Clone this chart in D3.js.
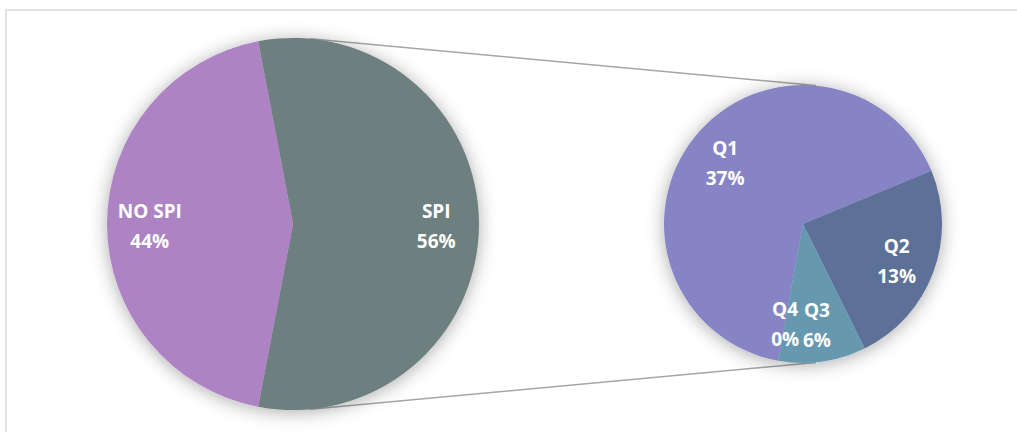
<!DOCTYPE html>
<html>
<head>
<meta charset="utf-8">
<script src="https://cdn.jsdelivr.net/npm/d3@7"></script>
<style>
  body { margin: 0; background: #fff; }
  svg { display: block; }
  .lbl { font-family: "Open Sans", "Noto Sans", sans-serif; font-weight: 700; font-size: 19px; fill: #fff; }
</style>
</head>
<body>
<div id="chart"></div>
<script>
// main pie
var mainCats = ["SPI", "NO SPI"];
var mainVals = [56, 44];
var mainColors = ["#6e7f80", "#ad83c4"];

// second pie (breakdown of SPI)
var subCats = ["Q1", "Q2", "Q3", "Q4"];
var subVals = [36.9, 13.4, 5.7, 0];
var subColors = ["#8784c6", "#5d7198", "#6699b0", "#7c8fb5"];

var width = 1017, height = 432;

var svg = d3.select("#chart").append("svg")
    .attr("width", width)
    .attr("height", height);

// soft shadow like excel
var defs = svg.append("defs");
var f = defs.append("filter").attr("id", "shadow")
    .attr("x", "-25%").attr("y", "-25%").attr("width", "150%").attr("height", "150%");
f.append("feDropShadow")
    .attr("dx", 0).attr("dy", 2)
    .attr("stdDeviation", 9)
    .attr("flood-color", "#000")
    .attr("flood-opacity", 0.33);

// chart frame
svg.append("rect")
    .attr("x", 6).attr("y", 10)
    .attr("width", 1030).attr("height", 440)
    .attr("fill", "none")
    .attr("stroke", "#d9d9d9")
    .attr("stroke-width", 1.5);

var c1 = { x: 293, y: 224, r: 186 };
var c2 = { x: 803, y: 224, r: 139 };

// connector lines = outer tangents of the two circles
var d = c2.x - c1.x;
var a = (c1.r - c2.r) / d;
var b = Math.sqrt(1 - a * a);
[-1, 1].forEach(function (s) {
    svg.append("line")
        .attr("x1", c1.x + c1.r * a).attr("y1", c1.y + s * c1.r * b)
        .attr("x2", c2.x + c2.r * a).attr("y2", c2.y + s * c2.r * b)
        .attr("stroke", "#a6a6a6")
        .attr("stroke-width", 1.5);
});

// main pie: SPI slice centred on the right side
var spiFrac = mainVals[0] / d3.sum(mainVals);
var start1 = Math.PI / 2 - Math.PI * spiFrac;
var pie1 = d3.pie().sort(null).startAngle(start1).endAngle(start1 + 2 * Math.PI);
var arc1 = d3.arc().innerRadius(0).outerRadius(c1.r);
var lab1 = d3.arc().innerRadius(c1.r * 0.77).outerRadius(c1.r * 0.77);

var g1 = svg.append("g").attr("transform", "translate(" + c1.x + "," + c1.y + ")");
g1.append("g").attr("filter", "url(#shadow)")
    .selectAll("path")
    .data(pie1(mainVals))
    .enter()
    .append("path")
    .attr("d", arc1)
    .attr("fill", function (d, i) { return mainColors[i]; });

// second pie
var start2 = 190.3 * Math.PI / 180;
var pie2 = d3.pie().sort(null).startAngle(start2).endAngle(start2 + 2 * Math.PI);
var arc2 = d3.arc().innerRadius(0).outerRadius(c2.r);
var lab2 = d3.arc().innerRadius(c2.r * 0.72).outerRadius(c2.r * 0.72);

var g2 = svg.append("g").attr("transform", "translate(" + c2.x + "," + c2.y + ")");
g2.append("g").attr("filter", "url(#shadow)")
    .selectAll("path")
    .data(pie2(subVals))
    .enter()
    .append("path")
    .attr("d", arc2)
    .attr("fill", function (d, i) { return subColors[i]; });

function addLabels(g, arcs, labArc, cats, total) {
    arcs.forEach(function (d, i) {
        var p = labArc.centroid(d);
        var t = g.append("text")
            .attr("class", "lbl")
            .attr("text-anchor", "middle");
        t.append("tspan").attr("x", p[0]).attr("y", p[1] - 6).text(cats[i]);
        t.append("tspan").attr("x", p[0]).attr("y", p[1] + 24)
            .text(Math.round(d.data / total * 100) + "%");
    });
}

addLabels(g1, pie1(mainVals), lab1, mainCats, d3.sum(mainVals));
addLabels(g2, pie2(subVals), lab2, subCats, d3.sum(mainVals));
</script>
</body>
</html>
